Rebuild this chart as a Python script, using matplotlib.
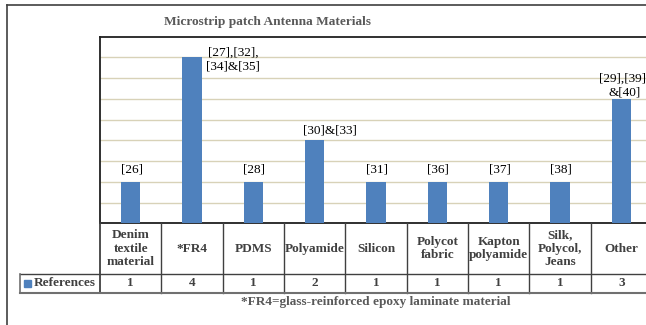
# Microstrip patch antenna materials - bar chart with data table
import matplotlib.pyplot as plt
from matplotlib.lines import Line2D
from matplotlib.patches import Rectangle
from matplotlib.transforms import blended_transform_factory
import numpy as np

categories = ["Denim\ntextile\nmaterial", "*FR4", "PDMS", "Polyamide", "Silicon",
              "Polycot\nfabric", "Kapton\npolyamide", "Silk,\nPolycol,\nJeans", "Other"]
counts = [1, 4, 1, 2, 1, 1, 1, 1, 3]
refs = ["[26]", "[27],[32],\n[34]&[35]", "[28]", "[30]&[33]", "[31]",
        "[36]", "[37]", "[38]", "[29],[39],\n&[40]"]

W, H = 646, 325
plt.rcParams['font.family'] = ['Liberation Serif', 'DejaVu Serif']

fig = plt.figure(figsize=(W / 100, H / 100), dpi=100)

def fx(px):
    return px / W

def fy(py):
    return 1 - py / H

bar_color = '#4F81BD'
line_color = '#404040'
text_color = '#404040'

ax = fig.add_axes([fx(100), fy(223.3), fx(652) - fx(100), fy(36.7) - fy(223.3)])
x = np.arange(len(categories))
ax.bar(x, counts, width=0.31, color=bar_color, zorder=3)
ax.set_xlim(-0.5, len(categories) - 0.5)
ax.set_ylim(0, 4.5)
ax.set_yticks(np.arange(0, 4.1, 0.5))
ax.yaxis.grid(True, color='#D8D2B8', lw=1.0, zorder=0)
ax.set_xticks([])
ax.tick_params(left=False, labelleft=False)
for s in ax.spines.values():
    s.set_color('#202020')
    s.set_linewidth(1.3)

# data labels (offsets in pixels, as placed in the original)
offsets = {1: (41, -2), 3: (15, 10), 8: (3, 13)}
for i, (v, r) in enumerate(zip(counts, refs)):
    dx, dy = offsets.get(i, (1, 12))
    ax.annotate(r, (i, v), xytext=(dx, dy), textcoords='offset pixels',
                ha='center', va='center', fontsize=9.5, linespacing=1.15,
                annotation_clip=False)

# data table under the axes
tr = blended_transform_factory(ax.transData, fig.transFigure)
y_top, y_mid, y_bot = fy(223.3), fy(274), fy(293)
for i, (c, v) in enumerate(zip(categories, counts)):
    fig.add_artist(Line2D([i + 0.5, i + 0.5], [y_top, y_bot], transform=tr,
                          color=line_color, lw=1))
    fig.text(i, (y_top + y_mid) / 2, c, transform=tr, ha='center', va='center',
             fontsize=9.5, fontweight='bold', color=text_color, linespacing=1.15)
    fig.text(i, (y_mid + y_bot) / 2, str(v), transform=tr, ha='center', va='center',
             fontsize=9.5, fontweight='bold', color=text_color)
fig.add_artist(Line2D([fx(100), fx(100)], [y_top, y_bot], transform=fig.transFigure,
                      color=line_color, lw=1.3))
fig.add_artist(Line2D([fx(20), 1], [y_mid, y_mid], transform=fig.transFigure,
                      color=line_color, lw=1))
fig.add_artist(Line2D([fx(20), 1], [y_bot, y_bot], transform=fig.transFigure,
                      color='#707070', lw=1.5))
fig.add_artist(Line2D([fx(20), fx(20)], [y_mid, y_bot], transform=fig.transFigure,
                      color='#707070', lw=1.2))
fig.add_artist(Rectangle((fx(24), fy(287)), fx(7), 7 / H, transform=fig.transFigure,
                         color=bar_color))
fig.text(fx(34), (y_mid + y_bot) / 2, "References", ha='left', va='center',
         fontsize=9.5, fontweight='bold', color=text_color)

# title and footnote
fig.text(fx(267), fy(22), "Microstrip patch Antenna Materials", ha='center', va='center',
         fontsize=9.6, fontweight='bold', color='#595959')
fig.text(fx(376), fy(302), "*FR4=glass-reinforced epoxy laminate material",
         ha='center', va='center', fontsize=9.5, fontweight='bold', color='#595959')

# outer chart border
fig.add_artist(Line2D([fx(7), fx(7)], [0, fy(5)], transform=fig.transFigure,
                      color='#404040', lw=1.2))
fig.add_artist(Line2D([fx(7), 1], [fy(5), fy(5)], transform=fig.transFigure,
                      color='#404040', lw=1.2))

fig.savefig('out.png', dpi=100)
